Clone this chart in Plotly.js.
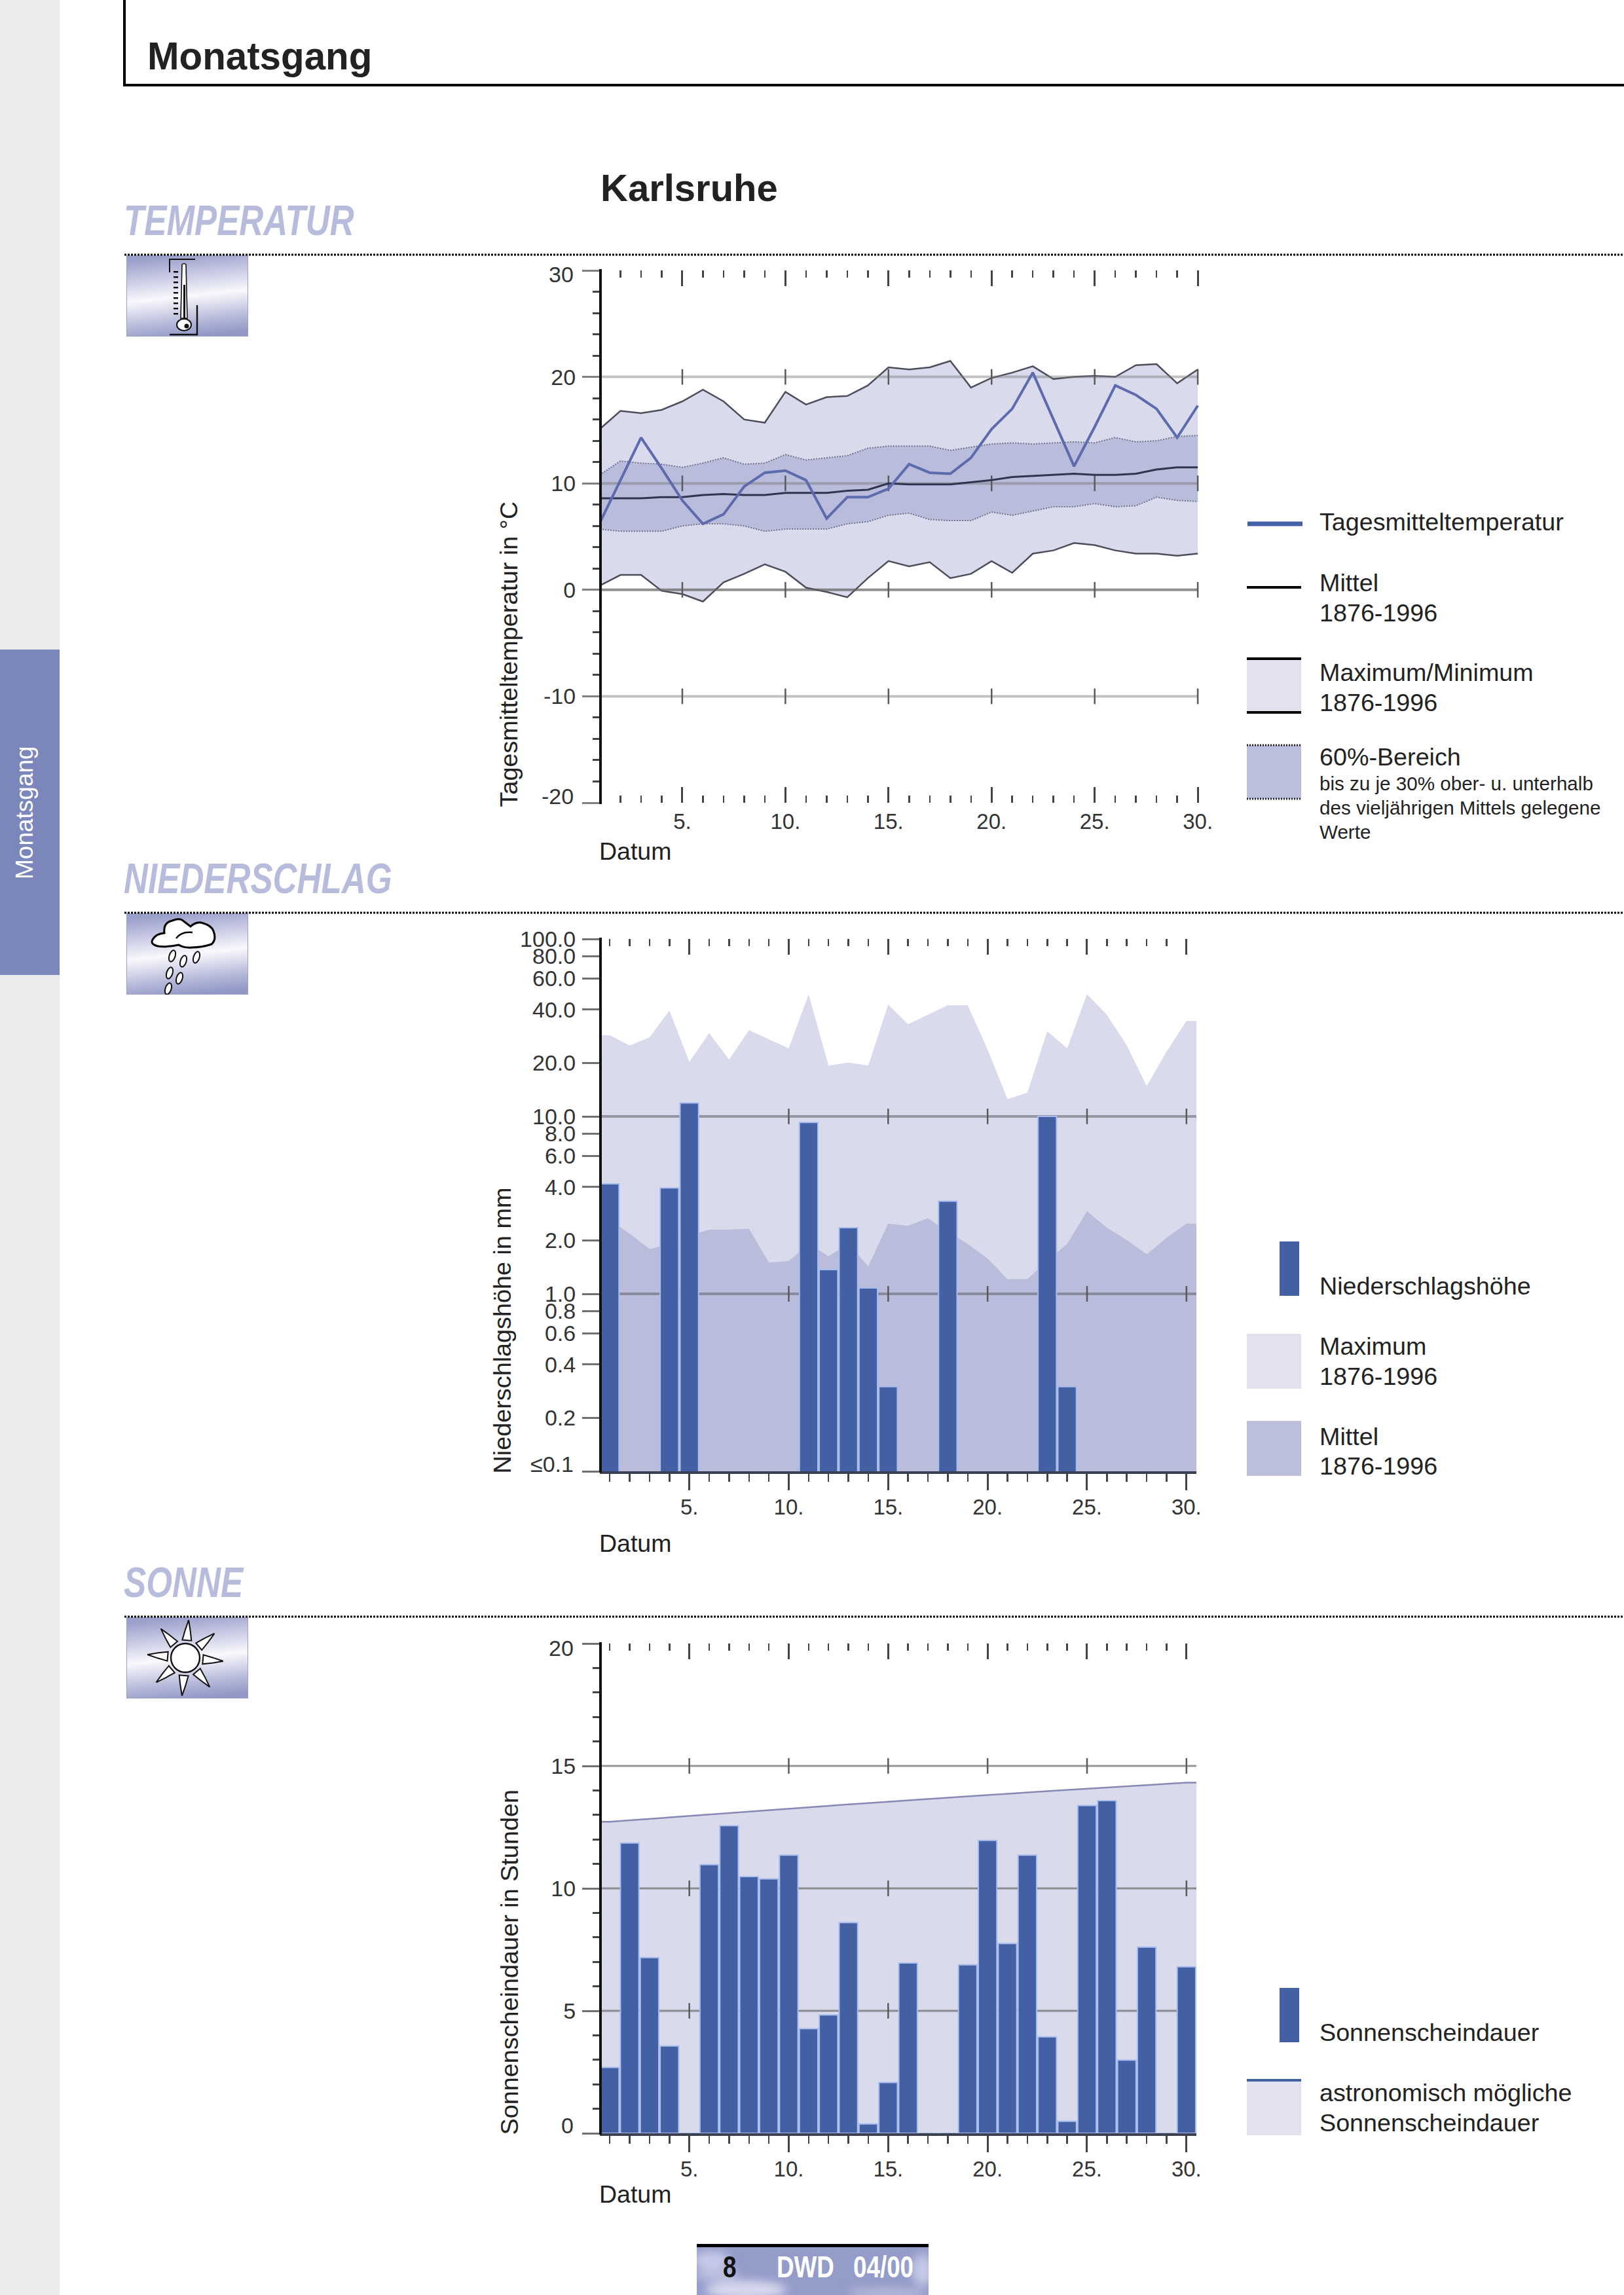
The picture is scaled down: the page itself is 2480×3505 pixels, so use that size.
<!DOCTYPE html>
<html><head><meta charset="utf-8">
<script src="https://cdn.plot.ly/plotly-3.0.1.min.js"></script>
<style>html,body{margin:0;padding:0;background:#fff}</style></head>
<body><div id="chart" style="width:2480px;height:3505px"></div>
<script>
const days=[1,2,3,4,5,6,7,8,9,10,11,12,13,14,15,16,17,18,19,20,21,22,23,24,25,26,27,28,29,30];
const tickDays=[5,10,15,20,25,30];
const tickDayLabels=['5.','10.','15.','20.','25.','30.'];
const tempMax=[15.1,16.8,16.6,16.9,17.7,18.8,17.7,16.0,15.7,18.6,17.4,18.1,18.2,19.2,20.9,20.7,20.9,21.5,19.0,19.9,20.4,21.0,19.8,20.0,20.1,20.0,21.1,21.2,19.4,20.7];
const tempMin=[0.4,1.4,1.4,-0.1,-0.4,-1.1,0.7,1.5,2.4,1.7,0.2,-0.2,-0.7,1.1,2.7,2.2,2.6,1.1,1.5,2.7,1.6,3.4,3.7,4.4,4.2,3.7,3.4,3.4,3.2,3.4];
const tempUpper=[10.8,12.1,11.9,11.8,11.5,11.9,12.4,11.8,11.9,12.7,12.2,12.4,12.6,13.3,13.5,13.5,13.5,13.1,13.4,13.7,13.8,13.7,13.8,13.9,13.8,14.3,13.9,14.0,14.4,14.5];
const tempLower=[5.7,5.5,5.5,5.5,6.0,6.2,6.2,6.0,5.5,5.7,5.7,5.7,6.2,6.4,7.0,7.2,6.6,6.5,6.5,7.3,7.0,7.4,7.8,7.8,8.1,7.8,7.9,8.7,8.4,8.3];
const tempMean=[8.6,8.6,8.6,8.7,8.7,8.9,9.0,8.9,8.9,9.1,9.1,9.1,9.3,9.4,10.0,9.9,9.9,9.9,10.1,10.3,10.6,10.7,10.8,10.9,10.8,10.8,10.9,11.3,11.5,11.5];
const tempDaily=[6.3,10.3,14.3,11.4,8.4,6.2,7.1,9.7,11.0,11.2,10.3,6.7,8.7,8.7,9.5,11.8,11.0,10.9,12.4,15.1,17.0,20.4,16.0,11.6,15.3,19.2,18.3,17.0,14.3,17.3];
const tempGrid=[20,10,0,-10];
const tempTicks=[30,20,10,0,-10,-20];
const tempLabels=['','20','10','0','-10',''];
const precipMax=[28.7,25.1,27.9,39.5,20.3,29.5,20.9,30.6,27.2,24.2,48.8,19.3,20.1,19.3,42.7,33.1,37.4,42.3,42.3,23.8,12.5,13.6,30.2,24.2,48.8,37.4,25.1,14.8,23.2,34.5];
const precipMean=[2.62,2.18,1.79,1.91,2.12,2.30,2.30,2.33,1.50,1.53,1.91,1.63,1.91,1.43,2.49,2.42,2.67,2.24,1.91,1.58,1.21,1.21,1.54,1.91,2.92,2.36,2.01,1.67,2.07,2.49];
const precipBars=[4.17,null,null,3.95,11.9,null,null,null,null,null,9.25,1.37,2.36,1.08,0.30,null,null,3.33,null,null,null,null,10.0,0.30,null,null,null,null,null,null];
const precipGrid=[10,1];
const precipTicks=[100,80,60,40,20,10,8,6,4,2,1,0.8,0.6,0.4,0.2,0.1];
const precipLabels=['100.0','80.0','60.0','40.0','20.0','10.0','8.0','6.0','4.0','2.0','1.0','0.8','0.6','0.4','0.2',''];
const sunBars=[2.69,11.85,7.17,3.56,0,10.97,12.56,10.48,10.39,11.36,4.27,4.83,8.60,0.38,2.07,6.95,0,0,6.88,11.96,7.75,11.36,3.94,0.49,13.38,13.58,2.99,7.60,0,6.80];
const sunAstro=[12.72,12.78,12.84,12.90,12.96,13.02,13.08,13.14,13.19,13.25,13.31,13.37,13.43,13.48,13.54,13.59,13.65,13.70,13.76,13.81,13.87,13.92,13.97,14.02,14.07,14.12,14.17,14.22,14.27,14.32];
const sunGrid=[15,10,5];
const sunTicks=[20,15,10,5,0];
const sunLabels=['','15','10','5',''];

const W=2480,H=3505;
const FONT='Liberation Sans';
const px=x=>x/W, py=y=>1-y/H;
const BAR='#4460a5',LMAX='#d9daeb',LMID='#b9bcdb',SWMAX='#e1e2ee',SWMID='#bcbfdc',TEXT='#222222',TICK='#444444';
const LEG=37.7, AX=37.8;

const edgeX=[0.5].concat(days,[30.5]);
const pad=a=>[a[0]].concat(a,[a[a.length-1]]);

function gridTraces(vals,xr,xa,ya,colorFor,w){
  const out=[];
  vals.forEach(v=>{
    out.push({x:xr,y:[v,v],xaxis:xa,yaxis:ya,mode:'lines',line:{color:colorFor(v),width:w},hoverinfo:'skip',showlegend:false});
    out.push({x:tickDays,y:tickDays.map(()=>v),xaxis:xa,yaxis:ya,mode:'markers',cliponaxis:false,
      marker:{symbol:'line-ns',size:17,line:{width:2.5,color:'#5a5a5a'}},hoverinfo:'skip',showlegend:false});
  });
  return out;
}
const traces=[];
traces.push({x:days,y:tempMin,xaxis:'x',yaxis:'y',mode:'lines',line:{color:'#4d4d5c',width:2.5},showlegend:false,hoverinfo:'skip'});
traces.push({x:days,y:tempMax,xaxis:'x',yaxis:'y',mode:'lines',fill:'tonexty',fillcolor:LMAX,line:{color:'#4d4d5c',width:2.5},showlegend:false,hoverinfo:'skip'});
traces.push({x:days,y:tempLower,xaxis:'x',yaxis:'y',mode:'lines',line:{color:'#70728f',width:2,dash:'2px,2px'},showlegend:false,hoverinfo:'skip'});
traces.push({x:days,y:tempUpper,xaxis:'x',yaxis:'y',mode:'lines',fill:'tonexty',fillcolor:LMID,line:{color:'#70728f',width:2,dash:'2px,2px'},showlegend:false,hoverinfo:'skip'});
traces.push(...gridTraces(tempGrid,[1,30],'x','y',v=>v===0?'rgba(95,95,95,0.7)':'rgba(120,120,120,0.45)',4));
traces.push({x:days,y:tempMean,xaxis:'x',yaxis:'y',mode:'lines',line:{color:'#2f3550',width:3},showlegend:false,hoverinfo:'skip'});
traces.push({x:days,y:tempDaily,xaxis:'x',yaxis:'y',mode:'lines',line:{color:'#5b6bad',width:4},showlegend:false,hoverinfo:'skip'});
traces.push({x:edgeX,y:pad(precipMax),xaxis:'x2',yaxis:'y2',mode:'none',fill:'tozeroy',fillcolor:LMAX,showlegend:false,hoverinfo:'skip'});
traces.push({x:edgeX,y:pad(precipMean),xaxis:'x2',yaxis:'y2',mode:'none',fill:'tozeroy',fillcolor:LMID,showlegend:false,hoverinfo:'skip'});
traces.push(...gridTraces(precipGrid,[0.5,30.5],'x2','y2',()=>'rgba(105,105,115,0.6)',4));
traces.push({type:'bar',x:days,y:precipBars,xaxis:'x5',yaxis:'y5',width:0.93,marker:{color:BAR,line:{color:'#a9bdec',width:2}},showlegend:false,hoverinfo:'skip'});
traces.push({x:edgeX,y:pad(sunAstro),xaxis:'x3',yaxis:'y3',mode:'lines',fill:'tozeroy',fillcolor:LMAX,line:{color:'#8688b6',width:2.5},showlegend:false,hoverinfo:'skip'});
traces.push(...gridTraces(sunGrid,[0.5,30.5],'x3','y3',()=>'rgba(95,95,100,0.65)',3));
traces.push({type:'bar',x:days,y:sunBars,xaxis:'x6',yaxis:'y6',width:0.93,marker:{color:BAR,line:{color:'#a9bdec',width:2}},showlegend:false,hoverinfo:'skip'});

const tfY={family:FONT,size:34,color:'#333333'}, tfX={family:FONT,size:33,color:'#333333'};
function xAxisCommon(dom,range,anchor){
  return {domain:dom,range,anchor,tickmode:'array',tickvals:tickDays,ticktext:tickDayLabels,tickfont:tfX,showgrid:false,zeroline:false,fixedrange:true};
}
const xD1=[px(916),px(1831)], xD2=[px(916),px(1827)];
const yD1=[py(1226),py(413)], yD2=[py(2247),py(1434)], yD3=[py(3258),py(2510)];

const layout={
  width:W,height:H,autosize:false,margin:{l:0,r:0,t:0,b:0,pad:0},paper_bgcolor:'#fff',plot_bgcolor:'rgba(0,0,0,0)',showlegend:false,barmode:'overlay',
  xaxis:Object.assign(xAxisCommon(xD1,[1,30.06],'y'),{ticks:'inside',ticklen:24,tickwidth:3,tickcolor:TICK,mirror:'ticks',showline:false,ticklabelstandoff:6,
    minor:{ticks:'inside',tickmode:'linear',tick0:0,dtick:1,ticklen:11,tickwidth:2.5,tickcolor:TICK}}),
  yaxis:{domain:yD1,range:[-20,30],anchor:'x',tickmode:'array',tickvals:tempTicks,ticktext:tempLabels,tickfont:tfY,ticks:'outside',ticklen:26,tickwidth:3,tickcolor:'#808080',ticklabelstandoff:3,
    showline:false,showgrid:false,zeroline:false,fixedrange:true,
    minor:{ticks:'outside',tickmode:'linear',tick0:0,dtick:2,ticklen:10,tickwidth:3,tickcolor:'#444'}},
  xaxis2:Object.assign(xAxisCommon(xD2,[0.5,30.5],'y2'),{ticks:'outside',ticklen:25,tickwidth:3,tickcolor:TICK,showline:true,linecolor:'#3c3f52',linewidth:4,ticklabelstandoff:-3,
    minor:{ticks:'outside',tickmode:'linear',tick0:0,dtick:1,ticklen:12,tickwidth:2.5,tickcolor:TICK}}),
  yaxis2:{domain:yD2,type:'log',range:[-1,2],anchor:'x2',tickmode:'array',tickvals:precipTicks,ticktext:precipLabels,tickfont:tfY,ticks:'outside',ticklen:26,tickwidth:3,tickcolor:'#707070',ticklabelstandoff:3,
    showline:false,showgrid:false,zeroline:false,fixedrange:true},
  xaxis5:{overlaying:'x2',side:'top',anchor:'y5',range:[0.5,30.5],tickmode:'array',tickvals:tickDays,ticks:'inside',ticklen:24,tickwidth:3,tickcolor:TICK,showticklabels:false,showgrid:false,zeroline:false,fixedrange:true,
    minor:{ticks:'inside',tickmode:'linear',tick0:0,dtick:1,ticklen:11,tickwidth:2.5,tickcolor:TICK}},
  yaxis5:{overlaying:'y2',type:'log',range:[-1,2],anchor:'x5',visible:false,fixedrange:true},
  xaxis3:Object.assign(xAxisCommon(xD2,[0.5,30.5],'y3'),{ticks:'outside',ticklen:25,tickwidth:3,tickcolor:TICK,showline:true,linecolor:'#3c3f52',linewidth:4,ticklabelstandoff:-3,
    minor:{ticks:'outside',tickmode:'linear',tick0:0,dtick:1,ticklen:12,tickwidth:2.5,tickcolor:TICK}}),
  yaxis3:{domain:yD3,range:[0,20],anchor:'x3',tickmode:'array',tickvals:sunTicks,ticktext:sunLabels,tickfont:tfY,ticks:'outside',ticklen:26,tickwidth:3,tickcolor:'#707070',ticklabelstandoff:3,
    showline:false,showgrid:false,zeroline:false,fixedrange:true,
    minor:{ticks:'outside',tickmode:'linear',tick0:0,dtick:1,ticklen:10,tickwidth:3,tickcolor:'#444'}},
  xaxis6:{overlaying:'x3',side:'top',anchor:'y6',range:[0.5,30.5],tickmode:'array',tickvals:tickDays,ticks:'inside',ticklen:24,tickwidth:3,tickcolor:TICK,showticklabels:false,showgrid:false,zeroline:false,fixedrange:true,
    minor:{ticks:'inside',tickmode:'linear',tick0:0,dtick:1,ticklen:11,tickwidth:2.5,tickcolor:TICK}},
  yaxis6:{overlaying:'y3',range:[0,20],anchor:'x6',visible:false,fixedrange:true},
  shapes:[],annotations:[],images:[]
};

function rect(x0,y0,x1,y1,fill,layer){layout.shapes.push({type:'rect',xref:'paper',yref:'paper',x0:px(x0),x1:px(x1),y0:py(y1),y1:py(y0),fillcolor:fill,line:{width:0},layer:layer||'below'});}
function hline(x0,x1,y,color,w,dash){layout.shapes.push({type:'line',xref:'paper',yref:'paper',x0:px(x0),x1:px(x1),y0:py(y),y1:py(y),line:{color,width:w,dash:dash||'solid'}});}
function vline(x,y0,y1,color,w){layout.shapes.push({type:'line',xref:'paper',yref:'paper',x0:px(x),x1:px(x),y0:py(y0),y1:py(y1),line:{color,width:w}});}
function txt(s,x,base,size,o){o=o||{};
  layout.annotations.push({text:s,xref:'paper',yref:'paper',x:px(x),y:py(base+0.212*size+1),xanchor:'left',yanchor:'bottom',showarrow:false,borderpad:0,
    font:{family:FONT,size,color:o.color||TEXT,weight:o.weight||400,style:o.style||'normal'}});}
function vtxt(s,x,bottom,size,color){
  layout.annotations.push({text:s,xref:'paper',yref:'paper',x:px(x),y:py(bottom),xanchor:'center',yanchor:'bottom',textangle:-90,showarrow:false,borderpad:0,
    font:{family:FONT,size,color:color||TEXT}});}
function endLabel(s,yc){
  layout.annotations.push({text:s,xref:'paper',yref:'paper',x:px(877),y:py(yc),xanchor:'right',yanchor:'middle',showarrow:false,borderpad:0,font:tfY});}

rect(0,0,91,3505,'#ebebeb');
rect(0,992,91,1489,'#7b86bb');
vtxt('Monatsgang',37,1344,37,'#ffffff');
vline(190,0,132,'#000',4);
hline(188,2480,130,'#000',4);
txt('Monatsgang',224,106,58.3,{weight:700});
txt('Karlsruhe',916,307,58,{weight:700});

// y axis lines on the plot frame
vline(917,411,1228,'#111',4);
vline(917,1432,2249,'#111',4);
vline(917,2508,3260,'#111',4);
// end labels sitting inside the tick span, as in the print
endLabel('30',419);endLabel('-20',1216);
endLabel('≤0.1',2236);
endLabel('20',2517);endLabel('0',3246);

const HEAD={weight:700,style:'italic',color:'#b8bcdc'};
txt('TEMPERATUR',188,359,64,HEAD);
txt('NIEDERSCHLAG',188,1364,64,HEAD);
txt('SONNE',188,2439,64,HEAD);
hline(190,2480,389,'#000',3,'3px,2px');
hline(190,2480,1394,'#000',3,'3px,2px');
hline(190,2480,2469,'#000',3,'3px,2px');

vtxt('Tagesmitteltemperatur in °C',777,1234,AX);
vtxt('Niederschlagshöhe in mm',766,2252,AX);
vtxt('Sonnenscheindauer in Stunden',777,3262,AX);
txt('Datum',914,1313,37.5);
txt('Datum',914,2370,37.5);
txt('Datum',914,3364,37.5);

const LX=2014;
hline(1905,1989,800,BAR,7);
txt('Tagesmitteltemperatur',LX,810,LEG);
hline(1904,1987,897,'#000',4);
txt('Mittel',LX,903,LEG);txt('1876-1996',LX,949,LEG);
rect(1904,1006,1987,1088,SWMAX);
hline(1904,1987,1006,'#000',4);hline(1904,1987,1088,'#000',4);
txt('Maximum/Minimum',LX,1040,LEG);txt('1876-1996',LX,1086,LEG);
rect(1904,1138,1987,1220,SWMID);
hline(1904,1987,1138,'#222',3,'2px,2px');hline(1904,1987,1220,'#222',3,'2px,2px');
txt('60%-Bereich',LX,1169,LEG);
txt('bis zu je 30% ober- u. unterhalb',LX,1207,29.6);
txt('des vieljährigen Mittels gelegene',LX,1244,29.6);
txt('Werte',LX,1281,29.6);

rect(1954,1896,1984,1979,BAR);
txt('Niederschlagshöhe',LX,1977,LEG);
rect(1904,2037,1987,2121,SWMAX);
txt('Maximum',LX,2069,LEG);txt('1876-1996',LX,2115,LEG);
rect(1904,2170,1987,2254,SWMID);
txt('Mittel',LX,2207,LEG);txt('1876-1996',LX,2252,LEG);

rect(1954,3036,1984,3119,BAR);
txt('Sonnenscheindauer',LX,3117,LEG);
rect(1904,3175,1987,3261,SWMAX);
hline(1904,1987,3177,BAR,4);
txt('astronomisch mögliche',LX,3209,LEG);
txt('Sonnenscheindauer',LX,3255,LEG);

rect(1064,3427,1418,3432,'#000');
txt('8',1103,3478,46,{weight:700,color:'#111'});
txt('DWD',1185,3478,46,{weight:700,color:'#fff'});
txt('04/00',1302,3478,46,{weight:700,color:'#fff'});

const uri=s=>'data:image/svg+xml;charset=utf-8,'+encodeURIComponent(s);
const grad='<defs><linearGradient id="g" x1="0.42" y1="0" x2="0.58" y2="1"><stop offset="0" stop-color="#9ba0cb"/><stop offset=".25" stop-color="#cacbe5"/><stop offset=".5" stop-color="#f8f8fc"/><stop offset=".62" stop-color="#e0e0ef"/><stop offset=".82" stop-color="#b3b7d8"/><stop offset="1" stop-color="#9198c6"/></linearGradient></defs><rect x="0.5" y="0.5" width="185" height="123" fill="url(#g)" stroke="#9da1c8"/>';
const svgOpen='<svg xmlns="http://www.w3.org/2000/svg" width="186" height="124" viewBox="0 0 186 124">';
let tickMarks='';[24,32,40,48,56,64,72,80,88].forEach(y=>{tickMarks+=`<rect x="72" y="${y}" width="7" height="2.4" fill="#000"/>`;});
const thermo=svgOpen+grad+'<path d="M66 26V6H105" fill="none" stroke="#111" stroke-width="2"/><path d="M108 76V121H66" fill="none" stroke="#111" stroke-width="2.4"/>'+tickMarks+
 '<path d="M85 14Q88 11 91 14L93 96H83Z" fill="#fff" stroke="#111" stroke-width="1.6"/><rect x="87" y="45" width="3" height="55" fill="#111"/><ellipse cx="88" cy="106" rx="11" ry="9" fill="#fff" stroke="#111" stroke-width="2"/><circle cx="92" cy="108" r="3.5" fill="#111"/></svg>';
let drops='';[[70,65],[87,73],[107,67],[66,91],[81,99],[64,115]].forEach(d=>{drops+=`<ellipse cx="${d[0]}" cy="${d[1]}" rx="4.5" ry="9" transform="rotate(18 ${d[0]} ${d[1]})" fill="#fff" stroke="#111" stroke-width="2"/>`;});
const cloud=svgOpen+grad+'<path d="M40 40Q45 31 58 30Q56 14 70 11Q80 7 85 10L98 20Q105 13 114 14Q130 18 133 27Q138 40 130 47Q115 52 100 52Q88 53 80 48Q60 52 48 50Q36 47 40 40Z" fill="#fff" stroke="#000" stroke-width="3"/><path d="M76 38Q84 27 101 29" fill="none" stroke="#000" stroke-width="2.5"/>'+drops+'</svg>';
let rays='';[0,45,90,135,180,225,270,315].forEach(a=>{rays+=`<path d="M-7 -27L7 -27L4 -42L0 -58L-4 -42Z" transform="translate(90 62) rotate(${a+5})" fill="#fff" stroke="#111" stroke-width="2"/>`;});
const sun=svgOpen+grad+rays+'<circle cx="90" cy="62" r="22" fill="#fff" stroke="#111" stroke-width="2.4"/></svg>';
const foot='<svg xmlns="http://www.w3.org/2000/svg" width="354" height="73" viewBox="0 0 354 73"><defs><filter id="b" x="-30%" y="-60%" width="160%" height="220%"><feGaussianBlur stdDeviation="7"/></filter></defs><rect width="354" height="73" fill="#949cca"/><g filter="url(#b)"><ellipse cx="22" cy="20" rx="28" ry="14" fill="#c6cae8"/><ellipse cx="30" cy="42" rx="34" ry="9" fill="#bcc1e2"/><ellipse cx="75" cy="65" rx="62" ry="14" fill="#d8d9ee"/><ellipse cx="290" cy="70" rx="60" ry="7" fill="#b9bedd"/><ellipse cx="345" cy="35" rx="16" ry="24" fill="#c5c9e6"/></g></svg>';
function img(src,x0,y0,x1,y1){layout.images.push({source:uri(src),xref:'paper',yref:'paper',x:px(x0),y:py(y0),sizex:(x1-x0)/W,sizey:(y1-y0)/H,xanchor:'left',yanchor:'top',sizing:'stretch',layer:'below'});}
img(thermo,193,390,379,514);
img(cloud,193,1395,379,1519);
img(sun,193,2470,379,2594);
img(foot,1064,3432,1418,3505);

// the print sets these labels in a condensed cut; no condensed face is installed, so squeeze the real text
const condensed=['TEMPERATUR','NIEDERSCHLAG','SONNE','8','DWD','04/00'];
Plotly.newPlot('chart',traces,layout,{staticPlot:true,displayModeBar:false}).then(()=>{
  document.querySelectorAll('.annotation-text').forEach(t=>{
    if(condensed.includes(t.textContent)){
      const b=t.getBBox();
      t.setAttribute('transform',`translate(${b.x} 0) scale(0.8 1) translate(${-b.x} 0)`);
    }
  });
});
</script></body></html>
